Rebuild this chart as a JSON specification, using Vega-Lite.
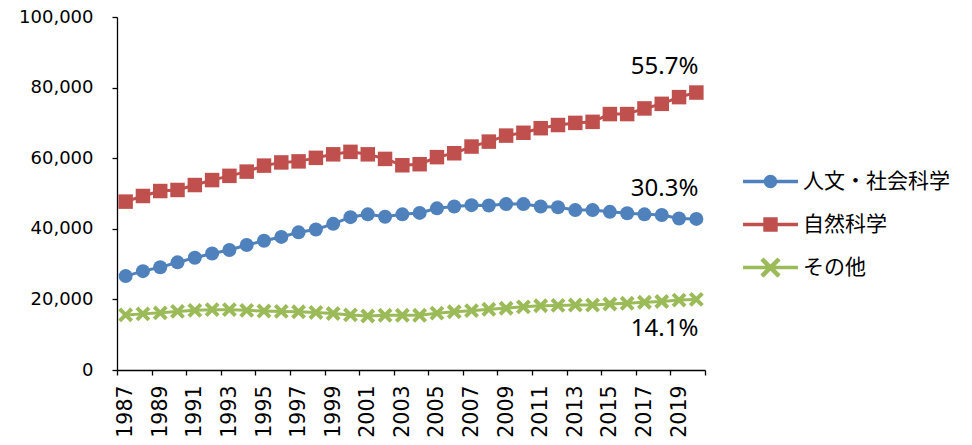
{
  "$schema": "https://vega.github.io/schema/vega-lite/v6.json",
  "width": 588,
  "height": 353,
  "autosize": {"type": "none"},
  "padding": {"left": 117, "top": 17, "right": 267, "bottom": 75},
  "background": "white",
  "config": {"view": {"stroke": null}},
  "datasets": {
    "main": [
      {"year": 1987, "cat": "人文・社会科学", "value": 26600}, {"year": 1988, "cat": "人文・社会科学", "value": 28000},
      {"year": 1989, "cat": "人文・社会科学", "value": 29100}, {"year": 1990, "cat": "人文・社会科学", "value": 30500},
      {"year": 1991, "cat": "人文・社会科学", "value": 31800}, {"year": 1992, "cat": "人文・社会科学", "value": 33000},
      {"year": 1993, "cat": "人文・社会科学", "value": 34000}, {"year": 1994, "cat": "人文・社会科学", "value": 35400},
      {"year": 1995, "cat": "人文・社会科学", "value": 36600}, {"year": 1996, "cat": "人文・社会科学", "value": 37700},
      {"year": 1997, "cat": "人文・社会科学", "value": 39000}, {"year": 1998, "cat": "人文・社会科学", "value": 39800},
      {"year": 1999, "cat": "人文・社会科学", "value": 41400}, {"year": 2000, "cat": "人文・社会科学", "value": 43300},
      {"year": 2001, "cat": "人文・社会科学", "value": 44100}, {"year": 2002, "cat": "人文・社会科学", "value": 43400},
      {"year": 2003, "cat": "人文・社会科学", "value": 44100}, {"year": 2004, "cat": "人文・社会科学", "value": 44500},
      {"year": 2005, "cat": "人文・社会科学", "value": 45800}, {"year": 2006, "cat": "人文・社会科学", "value": 46300},
      {"year": 2007, "cat": "人文・社会科学", "value": 46700}, {"year": 2008, "cat": "人文・社会科学", "value": 46600},
      {"year": 2009, "cat": "人文・社会科学", "value": 47000}, {"year": 2010, "cat": "人文・社会科学", "value": 47000},
      {"year": 2011, "cat": "人文・社会科学", "value": 46300}, {"year": 2012, "cat": "人文・社会科学", "value": 46100},
      {"year": 2013, "cat": "人文・社会科学", "value": 45300}, {"year": 2014, "cat": "人文・社会科学", "value": 45300},
      {"year": 2015, "cat": "人文・社会科学", "value": 44800}, {"year": 2016, "cat": "人文・社会科学", "value": 44400},
      {"year": 2017, "cat": "人文・社会科学", "value": 44100}, {"year": 2018, "cat": "人文・社会科学", "value": 43900},
      {"year": 2019, "cat": "人文・社会科学", "value": 42900}, {"year": 2020, "cat": "人文・社会科学", "value": 42800},
      {"year": 1987, "cat": "自然科学", "value": 47700}, {"year": 1988, "cat": "自然科学", "value": 49300},
      {"year": 1989, "cat": "自然科学", "value": 50700}, {"year": 1990, "cat": "自然科学", "value": 51000},
      {"year": 1991, "cat": "自然科学", "value": 52400}, {"year": 1992, "cat": "自然科学", "value": 53800},
      {"year": 1993, "cat": "自然科学", "value": 55000}, {"year": 1994, "cat": "自然科学", "value": 56200},
      {"year": 1995, "cat": "自然科学", "value": 57900}, {"year": 1996, "cat": "自然科学", "value": 58800},
      {"year": 1997, "cat": "自然科学", "value": 59100}, {"year": 1998, "cat": "自然科学", "value": 60100},
      {"year": 1999, "cat": "自然科学", "value": 61100}, {"year": 2000, "cat": "自然科学", "value": 61800},
      {"year": 2001, "cat": "自然科学", "value": 61100}, {"year": 2002, "cat": "自然科学", "value": 59800},
      {"year": 2003, "cat": "自然科学", "value": 58000}, {"year": 2004, "cat": "自然科学", "value": 58300},
      {"year": 2005, "cat": "自然科学", "value": 60300}, {"year": 2006, "cat": "自然科学", "value": 61400},
      {"year": 2007, "cat": "自然科学", "value": 63300}, {"year": 2008, "cat": "自然科学", "value": 64700},
      {"year": 2009, "cat": "自然科学", "value": 66400}, {"year": 2010, "cat": "自然科学", "value": 67200},
      {"year": 2011, "cat": "自然科学", "value": 68500}, {"year": 2012, "cat": "自然科学", "value": 69400},
      {"year": 2013, "cat": "自然科学", "value": 70000}, {"year": 2014, "cat": "自然科学", "value": 70300},
      {"year": 2015, "cat": "自然科学", "value": 72500}, {"year": 2016, "cat": "自然科学", "value": 72500},
      {"year": 2017, "cat": "自然科学", "value": 74100}, {"year": 2018, "cat": "自然科学", "value": 75400},
      {"year": 2019, "cat": "自然科学", "value": 77300}, {"year": 2020, "cat": "自然科学", "value": 78600},
      {"year": 1987, "cat": "その他", "value": 15600}, {"year": 1988, "cat": "その他", "value": 15900},
      {"year": 1989, "cat": "その他", "value": 16200}, {"year": 1990, "cat": "その他", "value": 16600},
      {"year": 1991, "cat": "その他", "value": 16900}, {"year": 1992, "cat": "その他", "value": 17100},
      {"year": 1993, "cat": "その他", "value": 17100}, {"year": 1994, "cat": "その他", "value": 16900},
      {"year": 1995, "cat": "その他", "value": 16700}, {"year": 1996, "cat": "その他", "value": 16600},
      {"year": 1997, "cat": "その他", "value": 16500}, {"year": 1998, "cat": "その他", "value": 16300},
      {"year": 1999, "cat": "その他", "value": 16000}, {"year": 2000, "cat": "その他", "value": 15600},
      {"year": 2001, "cat": "その他", "value": 15300}, {"year": 2002, "cat": "その他", "value": 15500},
      {"year": 2003, "cat": "その他", "value": 15500}, {"year": 2004, "cat": "その他", "value": 15500},
      {"year": 2005, "cat": "その他", "value": 16100}, {"year": 2006, "cat": "その他", "value": 16500},
      {"year": 2007, "cat": "その他", "value": 16800}, {"year": 2008, "cat": "その他", "value": 17200},
      {"year": 2009, "cat": "その他", "value": 17500}, {"year": 2010, "cat": "その他", "value": 17900},
      {"year": 2011, "cat": "その他", "value": 18200}, {"year": 2012, "cat": "その他", "value": 18300},
      {"year": 2013, "cat": "その他", "value": 18400}, {"year": 2014, "cat": "その他", "value": 18400},
      {"year": 2015, "cat": "その他", "value": 18700}, {"year": 2016, "cat": "その他", "value": 18900},
      {"year": 2017, "cat": "その他", "value": 19200}, {"year": 2018, "cat": "その他", "value": 19400},
      {"year": 2019, "cat": "その他", "value": 19800}, {"year": 2020, "cat": "その他", "value": 20000}
    ],
    "labels": [
      {"year": 2020, "cat": "自然科学", "value": 78600, "label": "55.7%"},
      {"year": 2020, "cat": "人文・社会科学", "value": 42800, "label": "30.3%"},
      {"year": 2020, "cat": "その他", "value": 20000, "label": "14.1%"}
    ]
  },
  "data": {"name": "main"},
  "encoding": {
    "x": {
      "field": "year", "type": "quantitative",
      "scale": {"domain": [1986.5, 2020.5], "nice": false, "zero": false},
      "axis": {
        "title": null, "grid": false,
        "values": [1986.5, 1988.5, 1990.5, 1992.5, 1994.5, 1996.5, 1998.5, 2000.5, 2002.5, 2004.5, 2006.5, 2008.5, 2010.5, 2012.5, 2014.5, 2016.5, 2018.5, 2020.5],
        "labelExpr": "datum.value < 2020 ? format(datum.value + 0.5, 'd') : ''",
        "labelOffset": 8.65, "labelAngle": 270, "labelAlign": "right", "labelBaseline": "middle",
        "labelFont": "DejaVu Sans", "labelFontSize": 20.5, "labelColor": "#000",
        "labelOverlap": false, "labelFlush": false, "labelPadding": 10,
        "tickSize": 5, "tickColor": "#000", "tickWidth": 1.3,
        "domainColor": "#000", "domainWidth": 1.3
      }
    },
    "y": {
      "field": "value", "type": "quantitative",
      "scale": {"domain": [0, 100000], "nice": false},
      "axis": {
        "title": null, "grid": false,
        "values": [0, 20000, 40000, 60000, 80000, 100000], "format": ",d",
        "labelFont": "DejaVu Sans", "labelFontSize": 18, "labelColor": "#000", "labelPadding": 19,
        "tickSize": 5, "tickColor": "#000", "tickWidth": 1.3,
        "domainColor": "#000", "domainWidth": 1.3
      }
    },
    "color": {
      "field": "cat", "type": "nominal",
      "scale": {"domain": ["人文・社会科学", "自然科学", "その他"], "range": ["#4F81BD", "#C0504D", "#9BBB59"]},
      "legend": {
        "title": null, "orient": "none", "legendX": 631, "legendY": 142,
        "padding": 0, "rowPadding": 10, "symbolSize": 2025, "labelOffset": 10,
        "labelFont": "Noto Sans CJK JP", "labelFontSize": 21, "labelColor": "#000",
        "encode": {
          "symbols": {
            "update": {
              "shape": {"signal": "datum.value === '自然科学' ? 'M-1.22,-0.078H1.22V0.078H-1.22Z M-0.32,-0.32H0.32V0.32H-0.32Z' : datum.value === 'その他' ? 'M-1.22,-0.078H1.22V0.078H-1.22Z M-0.31,-0.45L0.45,0.31L0.31,0.45L-0.45,-0.31Z M-0.45,0.31L0.31,-0.45L0.45,-0.31L-0.31,0.45Z' : 'M-1.22,-0.078H1.22V0.078H-1.22Z M0.3,0A0.3,0.3,0,1,1,-0.3,0A0.3,0.3,0,1,1,0.3,0Z'"},
              "size": {"value": 2025},
              "fill": {"scale": "color", "field": "value"},
              "stroke": {"value": "transparent"},
              "strokeWidth": {"value": 0},
              "opacity": {"value": 1}
            }
          }
        }
      }
    }
  },
  "layer": [
    {
      "mark": {"type": "line", "strokeWidth": 3}
    },
    {
      "transform": [{"filter": "datum.cat === '人文・社会科学'"}],
      "mark": {"type": "point", "filled": true, "opacity": 1, "size": 196, "shape": "circle"}
    },
    {
      "transform": [{"filter": "datum.cat === '自然科学'"}],
      "mark": {"type": "point", "filled": true, "opacity": 1, "size": 210, "shape": "square"}
    },
    {
      "transform": [{"filter": "datum.cat === 'その他'"}],
      "mark": {"type": "point", "filled": true, "opacity": 1, "size": 200, "shape": "M-0.65,-1.05L1.05,0.65L0.65,1.05L-1.05,-0.65Z M-1.05,0.65L0.65,-1.05L1.05,-0.65L-0.65,1.05Z"}
    },
    {
      "data": {"name": "labels"},
      "transform": [{"filter": "datum.cat === '自然科学'"}],
      "mark": {"type": "text", "align": "right", "baseline": "alphabetic", "dx": 2, "dy": -19, "font": "Noto Sans", "fontSize": 24, "color": "#000"},
      "encoding": {"text": {"field": "label"}, "color": null}
    },
    {
      "data": {"name": "labels"},
      "transform": [{"filter": "datum.cat === '人文・社会科学'"}],
      "mark": {"type": "text", "align": "right", "baseline": "alphabetic", "dx": 2, "dy": -23, "font": "Noto Sans", "fontSize": 24, "color": "#000"},
      "encoding": {"text": {"field": "label"}, "color": null}
    },
    {
      "data": {"name": "labels"},
      "transform": [{"filter": "datum.cat === 'その他'"}],
      "mark": {"type": "text", "align": "right", "baseline": "alphabetic", "dx": 2, "dy": 37, "font": "Noto Sans", "fontSize": 24, "color": "#000"},
      "encoding": {"text": {"field": "label"}, "color": null}
    }
  ]
}
